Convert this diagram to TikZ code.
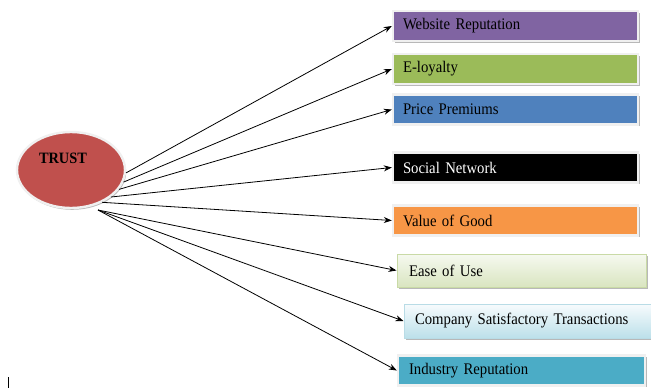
\documentclass[tikz,border=0pt]{standalone}
\usepackage{fontspec}
\setmainfont{Liberation Serif}
\newfontfamily\boxfont[FakeStretch=0.91]{Liberation Serif}
\usepackage{xcolor}
\usetikzlibrary{shapes,arrows.meta,positioning,calc,shadows}

\definecolor{trustred}{HTML}{C0504D}
\definecolor{webpurple}{HTML}{8064A2}
\definecolor{loyalgreen}{HTML}{9BBB59}
\definecolor{priceblue}{HTML}{4F81BD}
\definecolor{valueorange}{HTML}{F79646}
\definecolor{industeal}{HTML}{4BACC6}
\definecolor{easetop}{HTML}{F6F9F0}
\definecolor{easebot}{HTML}{D9E5C0}
\definecolor{easeline}{HTML}{C9DAA6}
\definecolor{comptop}{HTML}{F7FBFD}
\definecolor{compbot}{HTML}{BCE0EA}
\definecolor{compline}{HTML}{B9DCE6}

\begin{document}
\begin{tikzpicture}[
		x=1pt, y=-1pt,
		factor/.style={rectangle, minimum height=30pt, minimum width=245pt,
			inner xsep=10pt, text width=225pt, align=left,
			font=\boxfont\fontsize{16.2}{17}\selectfont,
			draw=black!6, line width=2.4pt,
			drop shadow={shadow xshift=1.6pt, shadow yshift=-1.8pt, fill=black!28, opacity=1}},
		link/.style={line width=0.8pt, -{Stealth[length=8pt,width=6pt]}},
	]
	\useasboundingbox (0,0) rectangle (651,389);

	% centre
	\node[ellipse, minimum width=108pt, minimum height=76pt, fill=trustred,
		draw=black!6, line width=2.4pt,
		drop shadow={shadow xshift=1.2pt, shadow yshift=-1.8pt, fill=black!28, opacity=1}]
		(trust) at (71,170) {};
	\node[font=\boxfont\bfseries\fontsize{15.8}{17}\selectfont] (trusttext) at (63,158) {TRUST};
	\coordinate (fan) at (98,210);

	% factors
	\node[factor, fill=webpurple] (web) at (515.5,26) {Website Reputation};
	\node[factor, fill=loyalgreen] (loyal) at (515.5,69) {E-loyalty};
	\node[factor, fill=priceblue] (price) at (515.5,109.5) {Price Premiums};
	\node[factor, fill=black, text=white] (social) at (515.5,167.5) {Social Network};
	\node[factor, fill=valueorange] (value) at (515.5,220.5) {Value of Good};
	\node[factor, minimum width=249pt, minimum height=33pt, draw=easeline, line width=1pt,
		top color=easetop, bottom color=easebot] (ease) at (521.5,270.5) {Ease of Use};
	\node[factor, minimum width=247pt, minimum height=34pt, draw=compline, line width=1pt,
		top color=comptop, bottom color=compbot] (company) at (527.5,321) {Company Satisfactory Transactions};
	\node[factor, minimum width=247pt, fill=industeal] (indus) at (521.5,370.5) {Industry Reputation};

	% links
	\draw[link] (trust.-3) -- (web.west);
	\draw[link] (trust.-13) -- (loyal.west);
	\draw[link] (trust.-22) -- (price.west);
	\draw[link] (trust.-34) -- (social.west);
	\draw[link] (trust.-46) -- (value.west);
	\draw[link] (fan) -- (ease.west);
	\draw[link] (fan) -- (company.west);
	\draw[link] (fan) -- (indus.west);

	% cursor mark
	\coordinate (marka) at (8,377);
	\coordinate (markb) at (8,388);
	\draw[line width=0.6pt] (marka) -- (markb);
\end{tikzpicture}
\end{document}
